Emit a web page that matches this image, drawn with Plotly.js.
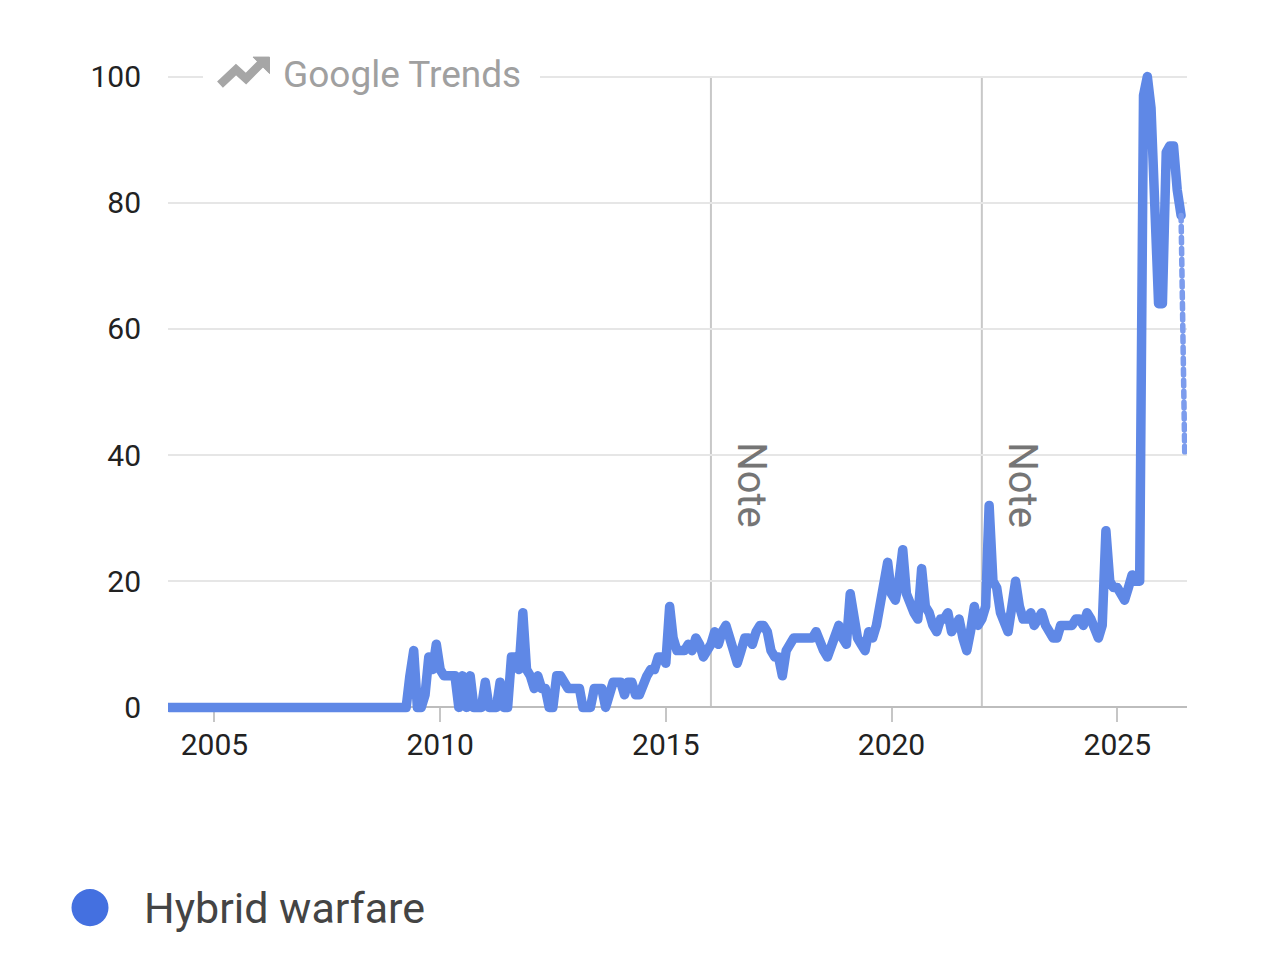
<!DOCTYPE html>
<html><head><meta charset="utf-8">
<script src="https://cdn.plot.ly/plotly-3.0.1.min.js"></script>
<style>
html,body{margin:0;padding:0;background:#fff;}
#chart{width:1284px;height:973px;}
.js-line{stroke-linejoin:round;stroke-linecap:round;}
</style></head><body><div id="chart"></div>
<script>
// ---- data (monthly interest, starting Jan 2004) ----
const startYear = 2004;
const interest = [
  0,0,0,0,0,0,0,0,0,0,0,0, 0,0,0,0,0,0,0,0,0,0,0,0,
  0,0,0,0,0,0,0,0,0,0,0,0, 0,0,0,0,0,0,0,0,0,0,0,0,
  0,0,0,0,0,0,0,0,0,0,0,0, 0,0,0,0,
  5,9,0,0,2,8,6,10,6,5,5,5,5,0,5,0,
  5,0,0,0,4,0,0,0,4,0,0,8,8,6,15,6,5,3,5,3,
  3,0,0,5,5,4,3,3,3,3,0,0,0,3,3,3,0,2,4,4,
  4,2,4,4,2,2,4,5,6,6,8,8,7,16,11,9,9,9,10,9,
  11,10,8,9,10,12,10,12,13,11,9,7,9,11,11,10,12,13,13,12,
  9,8,8,5,9,10,11,11,11,11,11,11,12,10,9,8,10,11,13,11,
  10,18,14,11,10,9,12,11,13,16,20,23,18,17,20,25,18,16,15,14,
  22,16,15,13,12,14,14,15,12,13,14,11,9,12,16,13,14,16,32,20,
  19,15,13,12,16,20,16,14,14,15,13,14,15,13,12,11,11,13,13,13,
  13,14,14,13,15,14,12,11,13,28,20,19,19,18,17,19,21,20,20,97,
  100,95,76,64,64,88,89,89,82,78
];
const partialValue = 40;               // incomplete last month (dotted)
const yTickVals = [0,20,40,60,80,100];
const xTickYears = [2005,2010,2015,2020,2025];
const xTickLabels = ['2005','2010','2015','2020','2025'];
const noteDates = ['2016-01-01','2022-01-01'];
const noteLabel = 'Note';
const seriesName = 'Hybrid warfare';
const brandText = 'Google Trends';

// ---- month dates ----
function monthDate(i){
  const y = startYear + Math.floor(i/12), m = (i%12)+1;
  return y + '-' + String(m).padStart(2,'0') + '-01';
}
const dates = interest.map((_,i)=>monthDate(i));
const partialDate = monthDate(interest.length);
const xTickVals = xTickYears.map(y=>y+'-01-01');

// ---- geometry ----
const W=1284, H=973, L=168, R=1187, Y0=707, Y100=77;
const yMin=-2, yMax=102;
const ppu=(Y0-Y100)/100;
const TOP = Y100-(yMax-100)*ppu;
const BOT = Y0+(0-yMin)*ppu;
const px = x => (x-L)/(R-L);
const py = y => (BOT-y)/(BOT-TOP);

const lineColor = '#5f88e6';
const FONT = 'Roboto, "Noto Sans", Arial, sans-serif';

const traces = [
  {x: dates, y: interest, type:'scatter', mode:'lines', name: seriesName,
   line:{color: lineColor, width:9.5}, hoverinfo:'skip', showlegend:false},
  {x: [dates[dates.length-1], partialDate], y:[interest[interest.length-1], partialValue],
   type:'scatter', mode:'lines', line:{color:'#7c9ced', width:5.5, dash:'dot'},
   hoverinfo:'skip', showlegend:false}
];

const shapes = [];
noteDates.forEach(d=>{
  shapes.push({type:'line', xref:'x', yref:'y', x0:d, x1:d, y0:0, y1:100,
    line:{color:'#c8c8c8', width:2}, layer:'below'});
});
// logo backdrop
shapes.push({type:'rect', xref:'paper', yref:'paper', x0:px(203), x1:px(540), y0:py(94), y1:py(60),
  fillcolor:'#ffffff', line:{width:0}, layer:'above'});
// trending icon
const iconPts = [[220,85],[236,70],[246,79],[261,64]];
shapes.push({type:'path', xref:'paper', yref:'paper', layer:'above',
  path: 'M' + iconPts.map(p=>px(p[0])+','+py(p[1])).join(' L'),
  line:{color:'#a6a6a6', width:8.5}, fillcolor:'rgba(0,0,0,0)'});
const headPts = [[253,57.5],[269.5,57.5],[269.5,74]];
shapes.push({type:'path', xref:'paper', yref:'paper', layer:'above',
  path: 'M' + headPts.map(p=>px(p[0])+','+py(p[1])).join(' L') + ' Z',
  line:{color:'#a6a6a6', width:1}, fillcolor:'#a6a6a6'});
// legend dot
shapes.push({type:'circle', xref:'paper', yref:'paper', layer:'above',
  x0:px(71.5), x1:px(108.5), y0:py(925.5), y1:py(888.5),
  fillcolor:'#4470e0', line:{width:0}});

const annotations = [];
noteDates.forEach(d=>{
  annotations.push({x:d, xref:'x', xshift:41, y:(Y0-485)/ppu, yref:'y',
    text:noteLabel, textangle:90, showarrow:false,
    font:{family:FONT, size:40, color:'#757575'}, xanchor:'center', yanchor:'middle'});
});
annotations.push({x:px(281), xref:'paper', y:py(75), yref:'paper', xanchor:'left', yanchor:'middle',
  text:brandText, showarrow:false, font:{family:FONT, size:37, color:'#a0a0a0'}});
annotations.push({x:px(142), xref:'paper', y:py(907), yref:'paper', xanchor:'left', yanchor:'middle',
  text:seriesName, showarrow:false, font:{family:FONT, size:43, color:'#444444'}});

const layout = {
  width:W, height:H,
  margin:{l:L, r:W-R, t:TOP, b:H-BOT, pad:0},
  paper_bgcolor:'#ffffff', plot_bgcolor:'#ffffff',
  showlegend:false,
  font:{family:FONT},
  xaxis:{type:'date', range:['2003-12-22','2026-07-19'],
    tickvals:xTickVals, ticktext:xTickLabels, tickmode:'array',
    ticks:'outside', ticklen:14, tickwidth:2, tickcolor:'#c6c6c6',
    showline:true, linecolor:'#bdbdbd', linewidth:2, ticklabelstandoff:-3,
    showgrid:false, zeroline:false, anchor:'free', position:(0-yMin)/(yMax-yMin),
    tickfont:{family:FONT, size:30, color:'#222222'}, layer:'below traces', fixedrange:true},
  yaxis:{range:[yMin,yMax], tickmode:'array', tickvals:yTickVals,
    showgrid:true, gridcolor:'#e6e6e6', gridwidth:2, zeroline:false, showline:false,
    ticks:'', ticklabelstandoff:26,
    tickfont:{family:FONT, size:30, color:'#222222'}, fixedrange:true},
  shapes: shapes,
  annotations: annotations
};

Plotly.newPlot('chart', traces, layout, {staticPlot:true, displayModeBar:false});
</script>
</body></html>
